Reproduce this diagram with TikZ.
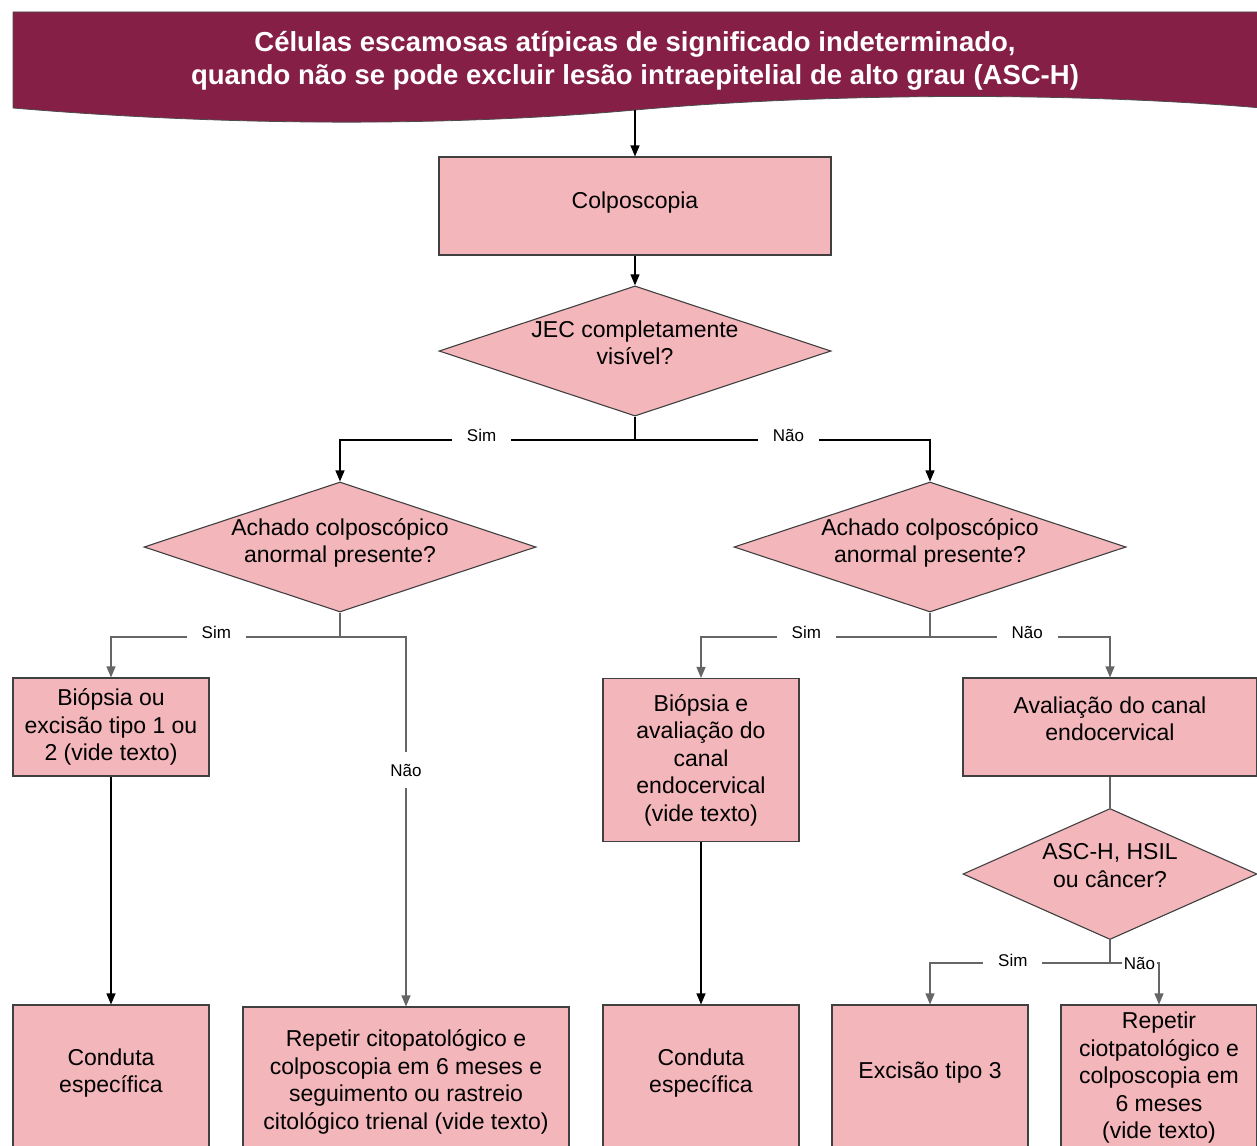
\documentclass[tikz,border=0pt]{standalone}
\usepackage{fontspec}
\setmainfont{Liberation Sans}
\usetikzlibrary{shapes.geometric,arrows.meta}
\definecolor{vinho}{HTML}{861F46}
\definecolor{rosa}{HTML}{F3B6BB}
\newcommand{\pushup}[1]{\rule[-#1]{0pt}{#1}}

\begin{document}
\begin{tikzpicture}[x=1pt,y=-1pt,
   caixa/.style={draw=black!75,fill=rosa,line width=1.1pt,rectangle,inner sep=0pt,align=center,font=\fontsize{23}{27.5}\selectfont},
   pergunta/.style={caixa,diamond,aspect=3},
   rotulo/.style={fill=white,inner xsep=15pt,inner ysep=3pt,yshift=5pt,font=\fontsize{17}{20}\selectfont},
   seta/.style={->,line width=1.1pt},
   ramo/.style={line width=1.1pt,draw=black!60},
   >={Triangle[length=11pt,width=9pt]}]
   \useasboundingbox (0,0) rectangle (1257,1145);
   \clip (0,0) rectangle (1257,1145);
   % faixa do titulo
   \filldraw[fill=vinho,draw=black!70,line width=0.8pt] (13,12) -- (1262,12) -- (1262,108)
      .. controls (1050,90) and (800,95) .. (635,110)
      .. controls (470,125) and (250,128) .. (13,108) -- cycle;
   \node[text=white,align=center,font=\bfseries\fontsize{27.5}{33}\selectfont] (titulo) at (635,61)
      {Células escamosas atípicas de significado indeterminado,\\quando não se pode excluir lesão intraepitelial de alto grau (ASC-H)};
   \coordinate (base) at (635,110);

   \node[caixa,minimum width=392pt,minimum height=98pt] (colpo) at (635,206) {Colposcopia\pushup{11pt}};
   \node[pergunta,minimum width=392pt,minimum height=128pt] (q1) at (635,351) {JEC completamente\\visível?\pushup{17pt}};
   \node[pergunta,minimum width=392pt,minimum height=130pt] (q2) at (340,547) {Achado colposcópico\\anormal presente?\pushup{13pt}};
   \node[pergunta,minimum width=392pt,minimum height=130pt] (q3) at (930,547) {Achado colposcópico\\anormal presente?\pushup{13pt}};
   \node[caixa,minimum width=196pt,minimum height=98pt] (bx1) at (111,727) {Biópsia ou\\excisão tipo 1 ou\\2 (vide texto)};
   \node[caixa,minimum width=196pt,minimum height=163pt] (bx2) at (701,760) {Biópsia e\\avaliação do\\canal\\endocervical\\(vide texto)};
   \node[caixa,minimum width=294pt,minimum height=98pt] (aval) at (1110,727) {Avaliação do canal\\endocervical\pushup{17pt}};
   \node[pergunta,aspect=2.4,minimum width=294pt,minimum height=131pt] (q4) at (1110,874) {ASC-H, HSIL\\ou câncer?\pushup{17pt}};

   % caixas de baixo, cortadas pela borda
   \node[caixa,minimum width=196pt,minimum height=180pt] (cond1) at (111,1095) {Conduta\\específica\pushup{49pt}};
   \node[caixa,minimum width=326pt,minimum height=176pt] (rep1) at (406,1095) {Repetir citopatológico e\\colposcopia em 6 meses e\\seguimento ou rastreio\\citológico trienal (vide texto)\pushup{31pt}};
   \node[caixa,minimum width=196pt,minimum height=180pt] (cond2) at (701,1095) {Conduta\\específica\pushup{49pt}};
   \node[caixa,minimum width=196pt,minimum height=180pt] (exc) at (930,1095) {Excisão tipo 3\pushup{49pt}};
   \node[caixa,minimum width=196pt,minimum height=180pt] (rep2) at (1159,1095) {Repetir\\ciotpatológico e\\colposcopia em\\6 meses\\(vide texto)\pushup{39pt}};

   \coordinate (j1) at (635,440);
   \coordinate (j2) at (340,637);
   \coordinate (j3) at (930,637);
   \coordinate (j4) at (1110,963);

   \draw[seta] (base) -- (colpo);
   \draw[seta] (colpo) -- (q1);
   \draw[line width=1.1pt] (q1.south) -- (j1);
   \draw[seta] (j1) -| node[rotulo,pos=0.26] (sim1) {Sim} (q2.north);
   \draw[seta] (j1) -| node[rotulo,pos=0.26] (nao1) {Não} (q3.north);

   \draw[ramo] (q2.south) -- (j2);
   \draw[seta,ramo] (j2) -| node[rotulo,pos=0.27] (sim2) {Sim} (bx1.north);
   \draw[seta,ramo] (j2) -| node[rotulo,pos=0.68,yshift=-5pt,inner ysep=12pt] (nao2) {Não} (rep1.north);
   \draw[seta] (bx1) -- (cond1);

   \draw[ramo] (q3.south) -- (j3);
   \draw[seta,ramo] (j3) -| node[rotulo,pos=0.27] (sim3) {Sim} (bx2.north);
   \draw[seta,ramo] (j3) -| node[rotulo,pos=0.27] (nao3) {Não} (aval.north);
   \draw[seta] (bx2) -- (cond2);

   \draw[ramo] (aval) -- (q4);
   \draw[ramo] (q4.south) -- (j4);
   \draw[seta,ramo] (j4) -| node[rotulo,pos=0.27,yshift=-2pt] (sim4) {Sim} (exc.north);
   \draw[seta,ramo] (j4) -| node[rotulo,pos=0.3,yshift=-5pt,inner xsep=2pt] (nao4) {Não} (rep2.north);
\end{tikzpicture}
\end{document}
